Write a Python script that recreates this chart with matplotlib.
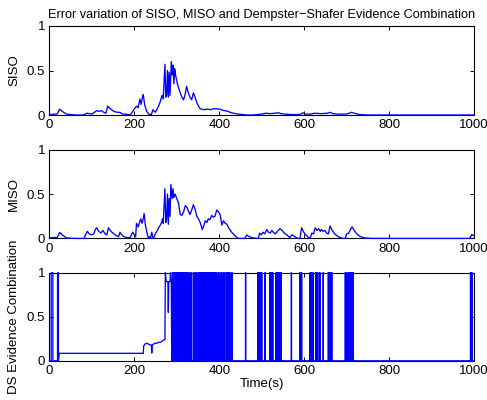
import matplotlib
matplotlib.use("Agg")
import matplotlib.pyplot as plt

# ---- data ----
siso_t = [0, 10, 18, 24, 30, 40, 60, 80, 88, 95, 100, 106, 111, 116, 122, 128, 133,
          137, 141, 146, 152, 160, 166, 172, 180, 190, 196, 200, 205, 209, 213, 216,
          219, 221, 224, 229, 234, 240, 244, 249, 253, 257, 261, 265, 268, 272, 274,
          276, 278, 280, 282, 284, 287, 289, 291, 293, 295, 297, 300, 303, 308, 312,
          316, 319, 323, 327, 331, 335, 339, 343, 347, 351, 355, 363, 372, 380, 386,
          394, 402, 410, 418, 426, 433, 445, 465, 480, 500, 510, 520, 530, 540, 545,
          555, 570, 590, 597, 603, 615, 625, 640, 655, 662, 667, 680, 700, 712, 718,
          730, 750, 800, 1000]
siso_v = [0.005, 0.01, 0.01, 0.065, 0.04, 0.01, 0.0, 0.0, 0.02, 0.015, 0.01, 0.03,
          0.05, 0.04, 0.05, 0.03, 0.02, 0.10, 0.08, 0.06, 0.04, 0.03, 0.03, 0.01, 0.01,
          0.0, 0.04, 0.07, 0.10, 0.08, 0.18, 0.12, 0.20, 0.23, 0.12, 0.04, 0.01, 0.005,
          0.06, 0.03, 0.06, 0.10, 0.15, 0.22, 0.18, 0.57, 0.20, 0.22, 0.50, 0.20, 0.48,
          0.22, 0.60, 0.45, 0.56, 0.35, 0.52, 0.45, 0.38, 0.32, 0.25, 0.20, 0.17, 0.22,
          0.32, 0.25, 0.20, 0.17, 0.25, 0.20, 0.14, 0.10, 0.07, 0.06, 0.065, 0.06, 0.07,
          0.07, 0.065, 0.05, 0.045, 0.03, 0.02, 0.01, 0.0, 0.0, 0.01, 0.02, 0.015, 0.02,
          0.025, 0.015, 0.01, 0.005, 0.005, 0.025, 0.01, 0.01, 0.02, 0.015, 0.02, 0.03,
          0.015, 0.01, 0.01, 0.03, 0.02, 0.005, 0.0, 0.0, 0.0]

miso_t = [0, 10, 18, 24, 30, 40, 60, 82, 84, 89, 94, 99, 104, 108, 111, 116, 121, 126,
          131, 135, 139, 143, 147, 152, 158, 163, 166, 172, 180, 190, 196, 200, 203,
          205, 209, 212, 215, 218, 220, 223, 226, 229, 233, 236, 238, 241, 244, 247,
          249, 253, 257, 261, 264, 266, 268, 272, 274, 276, 278, 280, 282, 284, 286,
          289, 291, 293, 296, 300, 304, 308, 312, 316, 320, 324, 328, 331, 335, 339,
          343, 347, 351, 355, 360, 364, 367, 371, 374, 378, 382, 386, 390, 394, 398,
          402, 406, 410, 414, 418, 422, 425, 429, 433, 439, 445, 460, 465, 470, 480,
          492, 495, 499, 503, 507, 512, 516, 520, 524, 527, 532, 537, 543, 548, 553,
          559, 566, 571, 578, 585, 590, 594, 599, 604, 610, 614, 618, 622, 626, 630,
          634, 638, 641, 645, 649, 653, 657, 661, 666, 672, 680, 690, 697, 700, 705,
          709, 713, 718, 724, 732, 742, 760, 990, 995, 1000]
miso_v = [0.005, 0.01, 0.01, 0.068, 0.04, 0.005, 0.0, 0.0, 0.03, 0.08, 0.05, 0.04,
          0.05, 0.10, 0.12, 0.08, 0.06, 0.09, 0.05, 0.04, 0.12, 0.09, 0.07, 0.05, 0.03,
          0.02, 0.07, 0.03, 0.01, 0.01, 0.07, 0.04, 0.02, 0.17, 0.13, 0.18, 0.22, 0.17,
          0.20, 0.28, 0.15, 0.08, 0.0, 0.02, 0.0, 0.07, 0.0, 0.02, 0.05, 0.08, 0.12,
          0.15, 0.18, 0.22, 0.17, 0.56, 0.18, 0.22, 0.50, 0.16, 0.45, 0.25, 0.61, 0.45,
          0.56, 0.46, 0.50, 0.45, 0.40, 0.27, 0.26, 0.30, 0.37, 0.35, 0.30, 0.27, 0.32,
          0.38, 0.33, 0.25, 0.22, 0.18, 0.10, 0.15, 0.20, 0.18, 0.22, 0.21, 0.26, 0.24,
          0.25, 0.32, 0.30, 0.27, 0.15, 0.20, 0.17, 0.16, 0.12, 0.10, 0.07, 0.05, 0.02,
          0.0, 0.0, 0.04, 0.02, 0.005, 0.0, 0.06, 0.04, 0.07, 0.05, 0.10, 0.07, 0.06,
          0.09, 0.07, 0.05, 0.08, 0.11, 0.09, 0.06, 0.04, 0.01, 0.04, 0.02, 0.0, 0.0,
          0.12, 0.07, 0.04, 0.01, 0.0, 0.06, 0.05, 0.12, 0.09, 0.11, 0.08, 0.10, 0.08,
          0.09, 0.06, 0.05, 0.14, 0.09, 0.05, 0.02, 0.0, 0.0, 0.05, 0.06, 0.10, 0.13,
          0.09, 0.05, 0.02, 0.005, 0.0, 0.0, 0.045, 0.03]

# DS evidence combination: smooth part up to t=288
ds_t = [0, 4, 4, 8, 8, 19, 19, 21, 21, 23, 221, 222, 225, 229, 233, 237, 240, 241,
        242, 245, 249, 253, 257, 261, 265, 267, 270, 272, 273, 275, 279, 280, 281,
        284, 285, 287, 288]
ds_v = [0, 0, 1, 1, 0, 0, 1, 1, 0, 0.085, 0.085, 0.17, 0.19, 0.20, 0.19, 0.18, 0.18,
        0.09, 0.18, 0.19, 0.20, 0.20, 0.21, 0.21, 0.22, 0.23, 0.24, 0.24, 1.0, 0.9,
        0.9, 0.55, 0.9, 0.9, 1.0, 0.9, 0]
# times where it switches between 0 and 1 afterwards
ds_switch = [290, 292, 294, 296, 298, 300, 303, 305, 307, 310, 313, 316, 319, 322,
             326, 330, 334, 339, 343, 347, 351, 354, 357, 360, 362, 364, 366, 367,
             368, 369, 370, 371, 372, 373, 374, 375, 376, 377, 378, 379, 380, 381,
             382, 383, 384, 385, 386, 387, 388, 389, 390, 391, 392, 393, 394, 398,
             402, 404, 406, 410, 413, 418, 421, 425, 430, 462, 491, 494, 497, 500,
             508, 519, 521, 524, 526, 534, 537, 540, 543, 546, 570, 590, 594, 614,
             617, 621, 627, 630, 632, 637, 645, 657, 660, 663, 665, 697, 700, 704,
             706, 708, 710, 712, 714, 715, 992, 995]

x_ticks = [0, 200, 400, 600, 800, 1000]
x_labels = ["0", "200", "400", "600", "800", "1000"]
y_ticks = [0, 0.5, 1]
y_labels = ["0", "0.5", "1"]

title = "Error variation of SISO, MISO and Dempster\u2212Shafer Evidence Combination"
ylabels = ["SISO", "MISO", "DS Evidence Combination"]

# build DS path: each switch is a vertical stroke between 0 and 1
ds_x = list(ds_t)
ds_y = list(ds_v)
for s in ds_switch:
    ds_x += [s, s, s]
    ds_y += [0, 1, 0]
ds_x.append(1000)
ds_y.append(0)

plt.rcParams['font.family'] = ['Liberation Sans', 'DejaVu Sans']
plt.rcParams['font.size'] = 9.5

fig = plt.figure(figsize=(4.87, 4.0), dpi=100)
boxes = [[0.1016, 0.7125, 0.8716, 0.2225],
         [0.1016, 0.4040, 0.8716, 0.2215],
         [0.1016, 0.0980, 0.8716, 0.2200]]
series = [(siso_t, siso_v), (miso_t, miso_v), (ds_x, ds_y)]

for i, (box, (xs, ys)) in enumerate(zip(boxes, series)):
    ax = fig.add_axes(box)
    ax.plot(xs, ys, color=(0, 0, 1), lw=0.95, zorder=3, clip_on=False)
    ax.set_xlim(0, 1000)
    ax.set_ylim(0, 1)
    ax.set_xticks(x_ticks)
    ax.set_xticklabels(x_labels)
    ax.set_yticks(y_ticks)
    ax.set_yticklabels(y_labels)
    ax.tick_params(direction='in', length=3.2, width=0.7, top=True, right=True, pad=3)
    for sp in ax.spines.values():
        sp.set_linewidth(0.8)
    ax.set_ylabel(ylabels[i], labelpad=5)
    if i == 0:
        ax.set_title(title, fontsize=9.2, pad=6)
    if i == 2:
        ax.set_xlabel("Time(s)", labelpad=1)

fig.savefig("out.png", dpi=100)
